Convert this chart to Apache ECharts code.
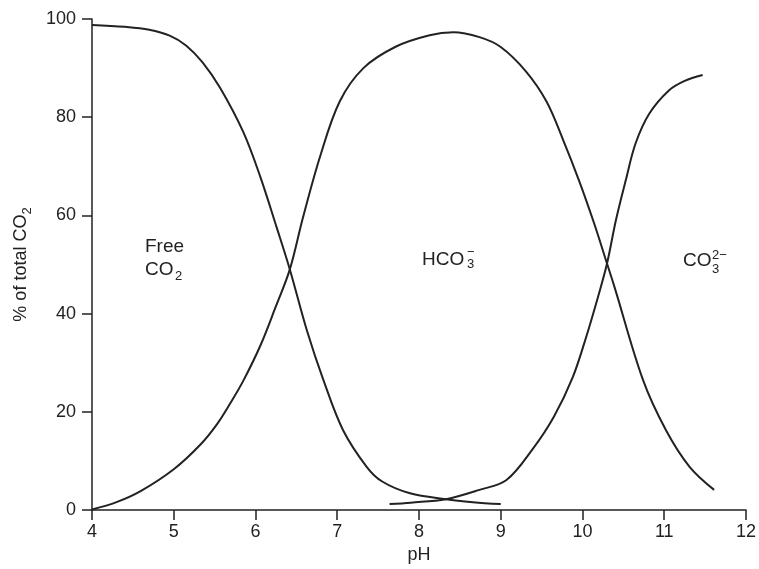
<!DOCTYPE html>
<html>
<head>
<meta charset="utf-8">
<script src="https://cdn.jsdelivr.net/npm/echarts@6/dist/echarts.min.js"></script>
<style>
  html, body { margin: 0; padding: 0; background: #fff; }
  #chart { width: 759px; height: 569px; }
</style>
</head>
<body>
<div id="chart"></div>
<script>
// [pH, % of total CO2]
const freeCO2 = [
  [4.0, 98.8], [4.4, 98.4], [4.7, 97.8], [4.95, 96.6], [5.15, 94.6], [5.35, 91.2],
  [5.57, 85.9], [5.85, 77.0], [6.06, 67.8], [6.26, 57.5], [6.42, 49.0], [6.63, 36.5],
  [6.83, 26.5], [7.07, 16.3], [7.36, 8.8], [7.55, 5.8], [7.89, 3.4], [8.33, 2.2],
  [8.66, 1.6], [9.0, 1.2]
]
const hco3 = [
  [4.0, 0.1], [4.3, 1.6], [4.6, 3.9], [5.0, 8.3], [5.33, 13.4], [5.53, 17.5],
  [5.69, 21.7], [5.85, 26.3], [6.06, 33.5], [6.25, 41.5], [6.42, 49.0], [6.58, 59.5],
  [6.79, 72.0], [7.03, 83.2], [7.32, 90.0], [7.72, 94.4], [8.13, 96.7], [8.42, 97.3],
  [8.74, 96.3], [9.0, 94.3], [9.31, 89.3], [9.56, 83.2], [9.76, 75.5], [9.96, 67.0],
  [10.14, 58.5], [10.30, 50.2], [10.39, 45.5], [10.74, 26.5], [11.02, 16.3],
  [11.31, 8.8], [11.61, 4.1]
]
const co3 = [
  [7.64, 1.2], [7.9, 1.5], [8.33, 2.2], [8.74, 4.1], [9.07, 6.1], [9.39, 12.4],
  [9.65, 19.0], [9.88, 27.0], [10.05, 35.5], [10.2, 44.0], [10.30, 50.2], [10.41, 59.1],
  [10.53, 67.2], [10.65, 74.7], [10.82, 80.8], [11.06, 85.5], [11.25, 87.4], [11.47, 88.6]
]

const ink = '#222'
const font = 'Liberation Sans, Arial, sans-serif'

function label(x, y, text, size) {
  return {
    type: 'text', x: x, y: y, silent: true,
    style: {
      text: text, fill: ink, font: size + 'px ' + font,
      textAlign: 'left', textVerticalAlign: 'middle', align: 'left', verticalAlign: 'middle'
    }
  }
}

function line(name, data) {
  return {
    name: name, type: 'line', data: data, symbol: 'none', smooth: 0.35,
    lineStyle: { color: ink, width: 2 }
  }
}

const chart = echarts.init(document.getElementById('chart'))
chart.setOption({
  animation: false,
  grid: { left: 91, right: 12, top: 19, bottom: 59 },
  xAxis: {
    type: 'value', min: 4, max: 12, interval: 1,
    name: 'pH', nameLocation: 'middle', nameGap: 34,
    nameTextStyle: { fontSize: 18, color: ink, fontFamily: font },
    axisLine: { lineStyle: { color: ink, width: 1.5 } },
    axisTick: { inside: false, length: 10, lineStyle: { color: ink, width: 1.5 } },
    axisLabel: { fontSize: 18, color: ink, fontFamily: font, margin: 13 },
    splitLine: { show: false }
  },
  yAxis: {
    type: 'value', min: 0, max: 100, interval: 20,
    name: '% of total CO{sub|2}', nameLocation: 'middle', nameGap: 58,
    nameTextStyle: {
      fontSize: 18, color: ink, fontFamily: font, lineHeight: 26,
      rich: { sub: { fontSize: 13, lineHeight: 13, verticalAlign: 'bottom', fontFamily: font, color: ink } }
    },
    axisLine: { show: true, lineStyle: { color: ink, width: 1.5 } },
    axisTick: { show: true, inside: false, length: 10, lineStyle: { color: ink, width: 1.5 } },
    axisLabel: { fontSize: 18, color: ink, fontFamily: font, margin: 16 },
    splitLine: { show: false }
  },
  series: [
    line('Free CO2', freeCO2),
    line('HCO3-', hco3),
    line('CO3 2-', co3)
  ],
  graphic: [
    label(145, 246.5, 'Free', 19),
    label(145, 269.5, 'CO', 19),
    label(175, 276, '2', 13),
    label(422, 259.5, 'HCO', 19),
    label(467, 264.5, '3', 13),
    label(467, 252.5, '−', 13),
    label(683, 261, 'CO', 19),
    label(712, 269.5, '3', 13),
    label(712, 255.5, '2−', 13)
  ]
})
</script>
</body>
</html>
